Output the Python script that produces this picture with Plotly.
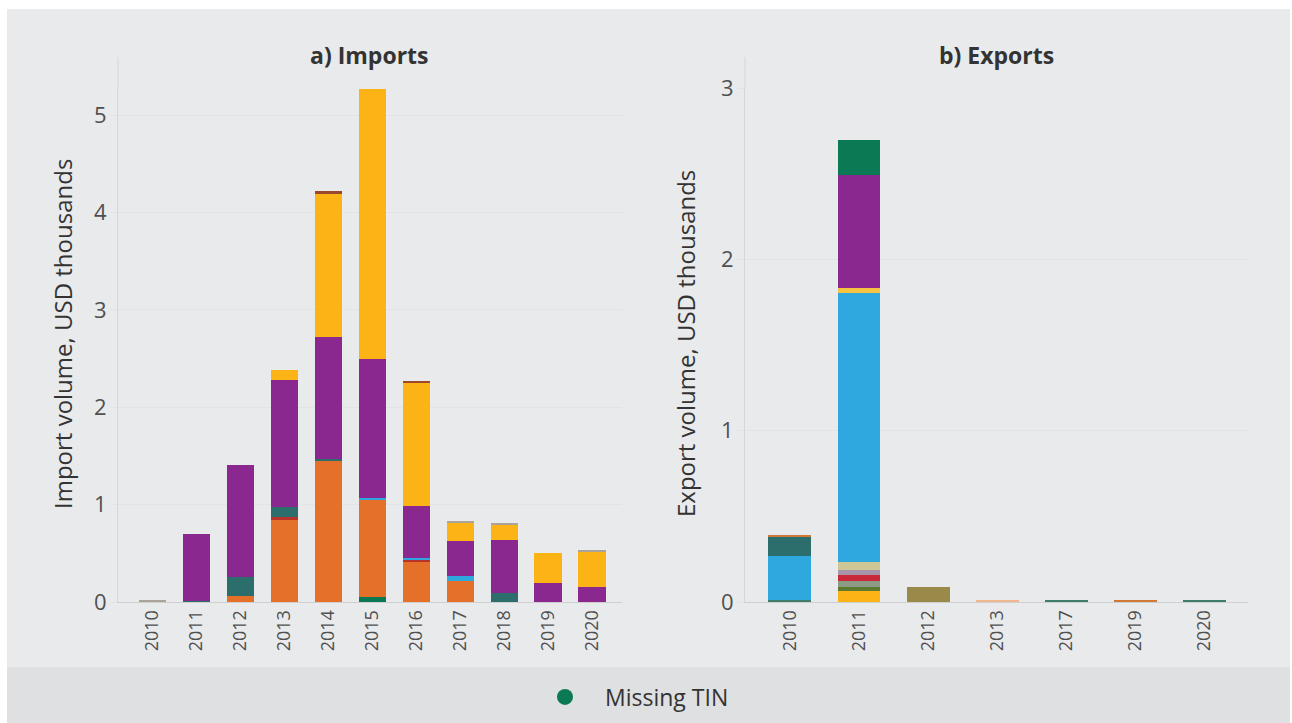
import plotly.graph_objects as go

# ---- Imports (USD thousands), stacked by segment ----
imp_years = ["2010", "2011", "2012", "2013", "2014", "2015", "2016", "2017", "2018", "2019", "2020"]
imp_missing = [0, 0, 0, 0, 0, 0.05, 0, 0, 0, 0, 0]
imp_orange = [0, 0, 0.06, 0.85, 1.45, 1.00, 0.42, 0.22, 0, 0, 0]
imp_red = [0, 0, 0, 0.02, 0, 0, 0.02, 0, 0, 0, 0]
imp_teal = [0, 0.01, 0.20, 0.11, 0.02, 0, 0, 0, 0.09, 0, 0]
imp_blue = [0, 0, 0, 0, 0, 0.02, 0.01, 0.05, 0, 0, 0]
imp_purple = [0, 0.69, 1.15, 1.30, 1.25, 1.43, 0.54, 0.36, 0.55, 0.20, 0.15]
imp_yellow = [0, 0, 0, 0.10, 1.48, 2.77, 1.26, 0.19, 0.16, 0.30, 0.37]
imp_brown = [0, 0, 0, 0, 0.02, 0, 0.02, 0, 0, 0, 0]
imp_gray = [0.015, 0, 0, 0, 0, 0, 0, 0.01, 0.01, 0, 0.01]

# ---- Exports (USD thousands), stacked by segment ----
exp_years = ["2010", "2011", "2012", "2013", "2017", "2019", "2020"]
exp_green_low = [0.01, 0, 0, 0, 0.008, 0, 0.012]
exp_yellow = [0, 0.065, 0, 0, 0, 0, 0]
exp_olive = [0, 0.02, 0, 0, 0, 0, 0]
exp_sage = [0, 0.04, 0, 0, 0, 0, 0]
exp_red = [0, 0.03, 0, 0, 0, 0, 0]
exp_mauve = [0, 0.03, 0, 0, 0, 0, 0]
exp_beige = [0, 0.05, 0, 0, 0, 0, 0]
exp_blue = [0.26, 1.57, 0, 0, 0, 0, 0]
exp_teal = [0.11, 0, 0, 0, 0, 0, 0]
exp_yellow2 = [0, 0.03, 0, 0, 0, 0, 0]
exp_purple = [0, 0.66, 0, 0, 0, 0, 0]
exp_missing = [0, 0.20, 0, 0, 0, 0, 0]
exp_brown = [0.01, 0, 0, 0, 0, 0.01, 0]
exp_khaki = [0, 0, 0.085, 0, 0, 0, 0]
exp_peach = [0, 0, 0, 0.006, 0, 0, 0]

GREEN = "#0b7a54"
PURPLE = "#8b288f"
YELLOW = "#fbb316"
ORANGE = "#e4702a"
TEAL = "#2c6e6b"
BLUE = "#2fa8e0"

imports_series = [
    ("Missing TIN", imp_missing, GREEN),
    ("Importer A", imp_orange, ORANGE),
    ("Importer B", imp_red, "#b8342a"),
    ("Importer C", imp_teal, TEAL),
    ("Importer D", imp_blue, BLUE),
    ("Importer E", imp_purple, PURPLE),
    ("Importer F", imp_yellow, YELLOW),
    ("Importer G", imp_brown, "#9a4a2a"),
    ("Importer H", imp_gray, "#a9a39a"),
]

exports_series = [
    ("Exporter A", exp_green_low, "#3f7d6a"),
    ("Exporter B", exp_yellow, "#fbb316"),
    ("Exporter C", exp_olive, "#5e7a30"),
    ("Exporter D", exp_sage, "#8c9a86"),
    ("Exporter E", exp_red, "#c8283a"),
    ("Exporter F", exp_mauve, "#a896a8"),
    ("Exporter G", exp_beige, "#cdc796"),
    ("Exporter H", exp_blue, BLUE),
    ("Exporter I", exp_teal, TEAL),
    ("Exporter J", exp_yellow2, "#f5c542"),
    ("Exporter K", exp_purple, PURPLE),
    ("Missing TIN", exp_missing, GREEN),
    ("Exporter L", exp_brown, "#d07a3a"),
    ("Exporter M", exp_khaki, "#9a8a4a"),
    ("Exporter N", exp_peach, "#f0b690"),
]

fig = go.Figure()

for name, vals, col in imports_series:
    fig.add_trace(go.Bar(
        x=imp_years, y=vals, name=name, marker=dict(color=col, line=dict(width=0)),
        width=0.62, showlegend=False, xaxis="x", yaxis="y",
    ))

for name, vals, col in exports_series:
    fig.add_trace(go.Bar(
        x=exp_years, y=vals, name=name, marker=dict(color=col, line=dict(width=0)),
        width=0.62, showlegend=False, xaxis="x2", yaxis="y2",
    ))

# legend entry drawn as a round marker
fig.add_trace(go.Scatter(
    x=[None], y=[None], mode="markers", name="Missing TIN",
    marker=dict(color=GREEN, size=17, symbol="circle"),
    xaxis="x", yaxis="y", showlegend=True,
))

W, H = 1292, 723
px = lambda v: v / W
py = lambda v: 1 - v / H

FONT = "Open Sans, Noto Sans, sans-serif"
TICK_COL = "#505050"
TEXT_COL = "#333333"
GRID = "#e3e3e3"

common_y = dict(
    showgrid=True, gridcolor=GRID, gridwidth=1, zeroline=False,
    ticks="outside", ticklen=6, tickcolor=GRID,
    tickfont=dict(family=FONT, size=22, color=TICK_COL),
    showline=True, linecolor="#d6d6d6", linewidth=1,
)
common_x = dict(
    type="category", tickangle=-90, showgrid=False, ticks="",
    tickfont=dict(family=FONT, size=18, color=TICK_COL),
    showline=True, linecolor="#cfcfcf", linewidth=1,
)

y_bottom = py(602)
y_top = py(88)

fig.update_layout(
    width=W, height=H,
    margin=dict(l=0, r=0, t=0, b=0, autoexpand=False),
    paper_bgcolor="white",
    plot_bgcolor="white",
    barmode="stack",
    bargap=0,
    font=dict(family=FONT, color=TEXT_COL),
    xaxis=dict(domain=[px(118), px(622)], range=[-0.78, 10.68], anchor="y", **common_x),
    yaxis=dict(domain=[y_bottom, y_top], range=[0, 5.28], anchor="x",
               tickvals=[0, 1, 2, 3, 4, 5], **common_y),
    xaxis2=dict(domain=[px(745), px(1248)], range=[-0.65, 6.63], anchor="y2", **common_x),
    yaxis2=dict(domain=[y_bottom, y_top], range=[0, 3.0], anchor="x2",
                tickvals=[0, 1, 2, 3], **common_y),
    legend=dict(
        orientation="h", x=px(525), xanchor="left", y=py(697), yanchor="middle",
        font=dict(family=FONT, size=23, color=TEXT_COL),
        bgcolor="rgba(0,0,0,0)", itemwidth=70,
    ),
    shapes=[
        # main grey panel
        dict(type="rect", xref="paper", yref="paper", x0=px(7), x1=px(1290), y0=py(667), y1=py(9),
             fillcolor="#e9eaec", line=dict(width=0), layer="below"),
        # legend strip
        dict(type="rect", xref="paper", yref="paper", x0=px(7), x1=px(1290), y0=0, y1=py(667),
             fillcolor="#dfe0e2", line=dict(width=0), layer="below"),
        # axis lines continuing above the plot areas
        dict(type="line", xref="paper", yref="paper", x0=px(118), x1=px(118), y0=y_top, y1=py(57),
             line=dict(color="#d6d6d6", width=1)),
        dict(type="line", xref="paper", yref="paper", x0=px(745), x1=px(745), y0=y_top, y1=py(57),
             line=dict(color="#d6d6d6", width=1)),
    ],
    annotations=[
        dict(text="<b>a) Imports</b>", xref="paper", yref="paper", x=px(370), y=py(55),
             xanchor="center", yanchor="middle", showarrow=False,
             font=dict(family=FONT, size=23, color=TEXT_COL)),
        dict(text="<b>b) Exports</b>", xref="paper", yref="paper", x=px(996), y=py(55),
             xanchor="center", yanchor="middle", showarrow=False,
             font=dict(family=FONT, size=23, color=TEXT_COL)),
        dict(text="Import volume, USD thousands", xref="paper", yref="paper", x=px(62), y=py(334),
             xanchor="center", yanchor="middle", textangle=-90, showarrow=False,
             font=dict(family=FONT, size=24, color=TEXT_COL)),
        dict(text="Export volume, USD thousands", xref="paper", yref="paper", x=px(685), y=py(344),
             xanchor="center", yanchor="middle", textangle=-90, showarrow=False,
             font=dict(family=FONT, size=24, color=TEXT_COL)),
    ],
)

fig.write_html("out.html")
